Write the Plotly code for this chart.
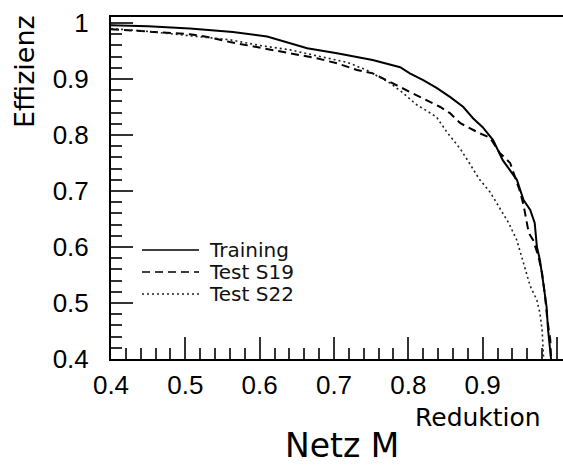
import plotly.graph_objects as go

# Efficiency vs. background reduction for network M
train_x = [0.400, 0.450, 0.506, 0.564, 0.610, 0.640, 0.664, 0.704, 0.752, 0.789,
           0.802, 0.820, 0.838, 0.856, 0.874, 0.887, 0.900, 0.914, 0.927, 0.946,
           0.955, 0.964, 0.970, 0.973, 0.977, 0.981, 0.986, 0.988, 0.991, 0.992]
train_y = [0.996, 0.994, 0.990, 0.984, 0.976, 0.965, 0.955, 0.946, 0.934, 0.921,
           0.910, 0.898, 0.884, 0.868, 0.850, 0.830, 0.814, 0.791, 0.755, 0.720,
           0.684, 0.666, 0.643, 0.600, 0.577, 0.541, 0.493, 0.452, 0.411, 0.400]

s19_x = [0.400, 0.450, 0.506, 0.530, 0.560, 0.596, 0.641, 0.677, 0.704, 0.731,
         0.752, 0.775, 0.798, 0.820, 0.843, 0.856, 0.870, 0.896, 0.910, 0.923,
         0.937, 0.950, 0.955, 0.962, 0.968, 0.975, 0.980, 0.984, 0.987, 0.991, 0.992]
s19_y = [0.989, 0.985, 0.980, 0.975, 0.966, 0.957, 0.946, 0.937, 0.928, 0.916,
         0.910, 0.895, 0.880, 0.866, 0.850, 0.839, 0.821, 0.803, 0.795, 0.768,
         0.750, 0.700, 0.675, 0.625, 0.612, 0.583, 0.553, 0.511, 0.470, 0.434, 0.400]

s22_x = [0.400, 0.450, 0.500, 0.560, 0.600, 0.641, 0.685, 0.717, 0.744, 0.775,
         0.793, 0.810, 0.825, 0.838, 0.852, 0.870, 0.883, 0.895, 0.910, 0.923,
         0.935, 0.946, 0.955, 0.964, 0.973, 0.977, 0.980, 0.981, 0.982]
s22_y = [0.990, 0.985, 0.978, 0.970, 0.960, 0.952, 0.939, 0.930, 0.916, 0.893,
         0.875, 0.855, 0.843, 0.832, 0.805, 0.775, 0.748, 0.722, 0.698, 0.670,
         0.643, 0.612, 0.570, 0.530, 0.505, 0.482, 0.452, 0.411, 0.400]

tick_vals = [0.4, 0.5, 0.6, 0.7, 0.8, 0.9, 1.0]
tick_text = ["0.4", "0.5", "0.6", "0.7", "0.8", "0.9", "1"]

legend_names = ["Training", "Test S19", "Test S22"]
line_styles = [
    dict(color="black", width=2, dash="solid"),
    dict(color="black", width=2, dash="8px,5px"),
    dict(color="#222", width=1.6, dash="2px,3px"),
]

fig = go.Figure()
for xs, ys, name, ln in zip([train_x, s19_x, s22_x], [train_y, s19_y, s22_y],
                            legend_names, line_styles):
    fig.add_trace(go.Scatter(x=xs, y=ys, mode="lines", name=name, line=ln,
                             showlegend=False))

tick_font = dict(family="Liberation Sans, Arial, sans-serif", size=26, color="black")
label_font = "DejaVu Sans, sans-serif"

PW, PH = 452, 342  # plot area size in pixels


def px(xp):
    return (xp - 111) / PW


def py(yp):
    return 1 - (yp - 17) / PH


fig.update_layout(
    width=563, height=467,
    margin=dict(l=111, r=0, t=17, b=108),
    paper_bgcolor="white", plot_bgcolor="white",
    xaxis=dict(
        range=[0.4, 1.00807], showgrid=False, zeroline=False,
        showline=True, linecolor="black", linewidth=2, mirror=True,
        tickmode="array", tickvals=tick_vals, ticktext=tick_text,
        ticks="inside", ticklen=22, tickwidth=1.5, tickcolor="#333",
        minor=dict(ticks="inside", ticklen=11, tickwidth=1.5, tickcolor="#333",
                   dtick=0.02, tick0=0.4, showgrid=False),
        tickfont=tick_font, ticklabelstandoff=2,
    ),
    yaxis=dict(
        range=[0.4, 1.0107], showgrid=False, zeroline=False,
        showline=True, linecolor="black", linewidth=2,
        tickmode="array", tickvals=tick_vals, ticktext=tick_text,
        ticks="inside", ticklen=22, tickwidth=1.5, tickcolor="#333",
        minor=dict(ticks="inside", ticklen=11, tickwidth=1.5, tickcolor="#333",
                   dtick=0.02, tick0=0.4, showgrid=False),
        tickfont=tick_font, ticklabelstandoff=15,
    ),
)

# Axis titles and caption
fig.add_annotation(text="Effizienz", xref="paper", yref="paper",
                   x=px(24), y=py(72), xanchor="center", yanchor="middle",
                   textangle=-90, showarrow=False,
                   font=dict(family=label_font, size=27, color="black"))
fig.add_annotation(text="Reduktion", xref="paper", yref="paper",
                   x=px(543), y=py(417),
                   xanchor="right", yanchor="middle", showarrow=False,
                   font=dict(family=label_font, size=25, color="black"))
fig.add_annotation(text="Netz M", xref="paper", yref="paper",
                   x=px(342), y=py(446), borderpad=0,
                   xanchor="center", yanchor="middle", showarrow=False,
                   font=dict(family=label_font, size=33, color="black"))

# Legend block: line samples with labels
legend_rows = [250, 272, 294]
for row, name, ln in zip(legend_rows, legend_names, line_styles):
    yp = py(row)
    fig.add_shape(type="line", xref="paper", yref="paper",
                  x0=px(142), x1=px(199), y0=yp, y1=yp,
                  line=dict(color=ln["color"], width=1.5, dash=ln["dash"]))
    fig.add_annotation(text=name, xref="paper", yref="paper",
                       x=px(207), y=yp, xanchor="left", yanchor="middle",
                       showarrow=False,
                       font=dict(family=label_font, size=20, color="#111"))

fig.write_html("out.html")
